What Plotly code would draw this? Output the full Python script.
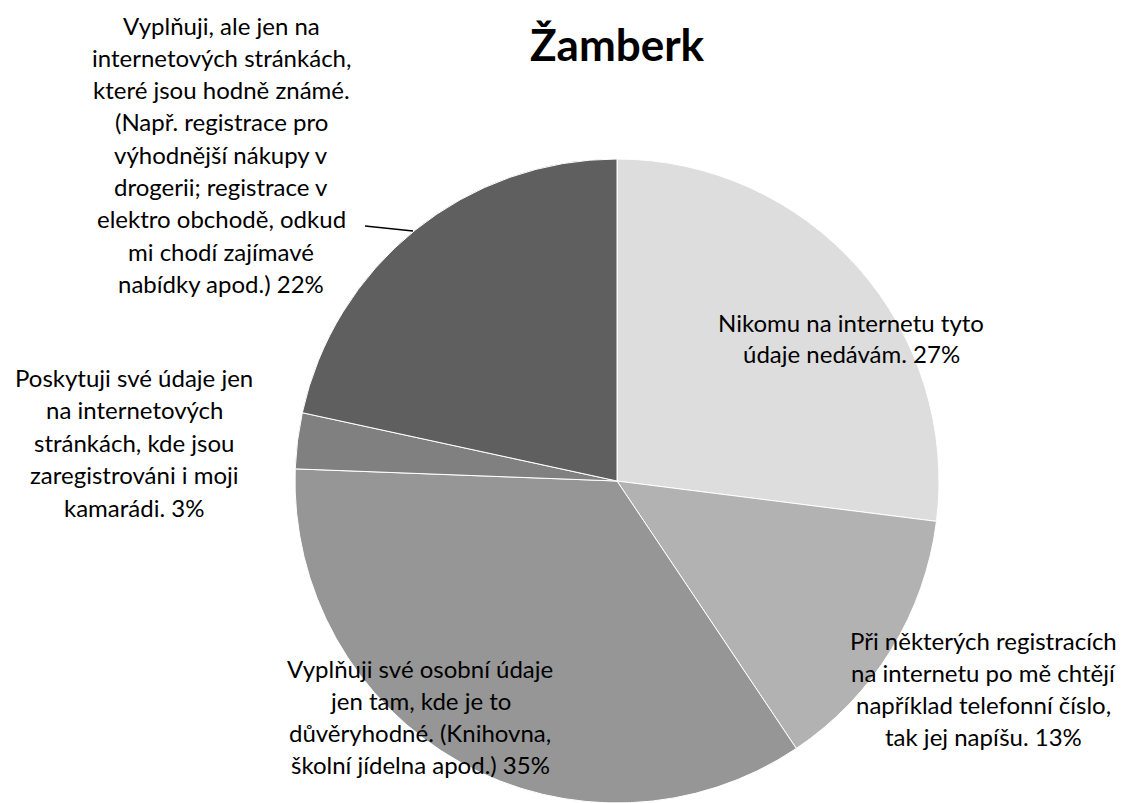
import plotly.graph_objects as go

W, H = 1126, 803

# ---- data ----
categories = [
    "Nikomu na internetu tyto\núdaje nedávám. 27%",
    "Při některých registracích\nna internetu po mě chtějí\nnapříklad telefonní číslo,\ntak jej napíšu. 13%",
    "Vyplňuji své osobní údaje\njen tam, kde je to\ndůvěryhodné. (Knihovna,\nškolní jídelna apod.) 35%",
    "Poskytuji své údaje jen\nna internetových\nstránkách, kde jsou\nzaregistrováni i moji\nkamarádi. 3%",
    "Vyplňuji, ale jen na\ninternetových stránkách,\nkteré jsou hodně známé.\n(Např. registrace pro\nvýhodnější nákupy v\ndrogerii; registrace v\nelektro obchodě, odkud\nmi chodí zajímavé\nnabídky apod.) 22%",
]
values = [27.0, 13.6, 35.0, 2.8, 21.6]
colors = ["#dddddd", "#b2b2b2", "#969696", "#808080", "#5f5f5f"]
title_text = "Žamberk"

# ---- layout helpers (pixel positions) ----
label_pos = [  # (center x px, first line center y px, line spacing px)
    (851, 322, 31.5),
    (983, 640, 32.3),
    (420, 668, 32.0),
    (134, 377, 32.5),
    (221, 25, 32.3),
]

cx, cy, r = 617, 481, 322

fig = go.Figure()
fig.add_trace(go.Pie(
    values=values,
    labels=[c.replace("\n", " ") for c in categories],
    marker=dict(colors=colors, line=dict(color="white", width=1)),
    sort=False,
    direction="clockwise",
    rotation=0,
    textinfo="none",
    showlegend=False,
    domain=dict(x=[(cx - r) / W, (cx + r) / W], y=[max(0, 1 - (cy + r) / H), 1 - (cy - r) / H]),
))

annotations = []
font = dict(family="Lato, Open Sans, sans-serif", size=24, color="#000000")
for cat, (px, py, sp) in zip(categories, label_pos):
    for i, line in enumerate(cat.split("\n")):
        annotations.append(dict(
            x=px / W, y=1 - (py + i * sp) / H, xref="paper", yref="paper",
            text=line, showarrow=False, xanchor="center", yanchor="middle",
            font=font,
        ))

annotations.append(dict(
    x=617 / W, y=1 - 44 / H, xref="paper", yref="paper", text="<b>" + title_text + "</b>",
    showarrow=False, xanchor="center", yanchor="middle",
    font=dict(family="Lato, Open Sans, sans-serif", size=44, color="#000000"),
))

fig.add_shape(type="line", xref="paper", yref="paper",
              x0=365 / W, y0=1 - 226 / H, x1=413 / W, y1=1 - 231 / H,
              line=dict(color="#000000", width=1.5))

fig.update_layout(
    width=W, height=H,
    margin=dict(l=0, r=0, t=0, b=0),
    paper_bgcolor="white",
    plot_bgcolor="white",
    annotations=annotations,
)

fig.write_html("out.html", config={"displayModeBar": False},
               post_script="document.body.style.margin='0';document.body.style.overflow='hidden';")
